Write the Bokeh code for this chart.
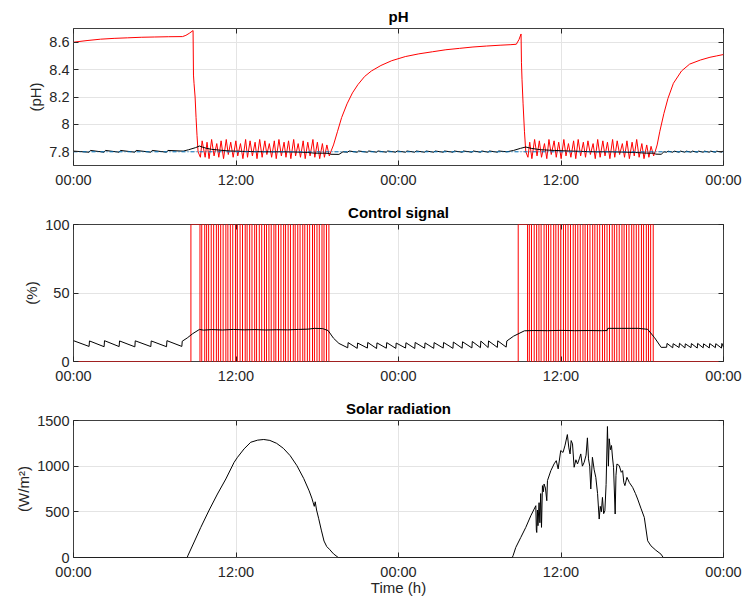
from bokeh.plotting import figure
from bokeh.models import Range1d, FixedTicker, LinearAxis, Grid
from bokeh.layouts import column
from bokeh.embed import file_html
from bokeh.resources import INLINE

# ---------------- data (hours from first midnight) ----------------
x_ticks = [0, 12, 24, 36, 48]
x_labels = ["00:00", "12:00", "00:00", "12:00", "00:00"]

ph_ticks = [7.8, 8.0, 8.2, 8.4, 8.6]
ph_labels = ["7.8", "8", "8.2", "8.4", "8.6"]
ctrl_ticks = [0, 50, 100]
ctrl_labels = ["0", "50", "100"]
sol_ticks = [0, 500, 1000, 1500]
sol_labels = ["0", "500", "1000", "1500"]

setpoint = 7.8

# red pH: night 1 + first drop
red_a_t = [0, 1, 2, 3, 4, 5, 6, 7, 8.05, 8.3, 8.55, 8.83, 8.86, 8.9, 8.98, 9.05, 9.12, 9.2]
red_a_v = [8.600, 8.612, 8.622, 8.628, 8.632, 8.636, 8.638, 8.640, 8.641, 8.650, 8.665, 8.685,
           8.36, 8.30, 8.20, 8.05, 7.92, 7.80]
# red pH: recovery after day 1, night 2, second drop
red_b_t = [19.0, 19.2, 19.5, 19.8, 20.2, 20.6, 21.0, 21.5, 22.0, 22.7, 23.5, 24.5, 25.5, 26.5,
           27.5, 28.5, 29.5, 30.5, 31.5, 32.3, 32.7, 32.9, 33.05, 33.08, 33.12, 33.2, 33.3, 33.4]
red_b_v = [7.80, 7.85, 7.95, 8.05, 8.15, 8.23, 8.29, 8.35, 8.39, 8.43, 8.465, 8.495, 8.515, 8.53,
           8.545, 8.555, 8.565, 8.572, 8.578, 8.582, 8.585, 8.62, 8.66, 8.45, 8.33, 8.15, 7.95, 7.80]
# red pH: recovery after day 2
red_c_t = [42.95, 43.1, 43.3, 43.6, 43.9, 44.3, 44.9, 45.5, 46.3, 47.0, 47.5, 48.0]
red_c_v = [7.80, 7.85, 7.95, 8.08, 8.19, 8.30, 8.39, 8.44, 8.47, 8.49, 8.50, 8.51]

# control pulses (on / off times, h) -- first pulse of each day is the long one
on1 = [8.67, 9.47, 9.83, 10.17, 10.55, 10.87, 11.25, 11.58, 11.96, 12.30, 12.68, 13.01, 13.38, 13.72,
       14.10, 14.43, 14.80, 15.14, 15.52, 15.85, 16.23, 16.56, 16.93, 17.27, 17.65, 17.98, 18.35, 18.68]
off1 = [9.34, 9.69, 9.98, 10.35, 10.70, 11.05, 11.40, 11.76, 12.10, 12.48, 12.82, 13.18, 13.52, 13.90,
        14.25, 14.60, 14.94, 15.32, 15.66, 16.02, 16.37, 16.73, 17.08, 17.44, 17.79, 18.15, 18.50, 18.86]
on2 = [32.84, 33.66, 34.02, 34.37, 34.75, 35.08, 35.46, 35.80, 36.18, 36.52, 36.90, 37.24, 37.62, 37.96,
       38.34, 38.68, 39.06, 39.40, 39.78, 40.12, 40.50, 40.84, 41.22, 41.56, 41.94, 42.30, 42.62]
off2 = [33.53, 33.82, 34.20, 34.53, 34.92, 35.25, 35.62, 35.98, 36.34, 36.70, 37.06, 37.42, 37.78, 38.14,
        38.50, 38.86, 39.22, 39.58, 39.94, 40.30, 40.66, 41.02, 41.38, 41.74, 42.10, 42.46, 42.81]

# red pH oscillation extremes (peaks before each short pulse, troughs after each pulse)
pk1 = [7.88, 7.87, 7.89, 7.86, 7.88, 7.89, 7.87, 7.88, 7.86, 7.89, 7.88, 7.87, 7.89, 7.88,
       7.86, 7.88, 7.89, 7.87, 7.88, 7.89, 7.86, 7.88, 7.87, 7.89, 7.87, 7.86, 7.85]
tr1 = [7.76, 7.76, 7.75, 7.77, 7.76, 7.75, 7.78, 7.76, 7.77, 7.75, 7.76, 7.77, 7.75, 7.76,
       7.78, 7.76, 7.75, 7.77, 7.76, 7.75, 7.77, 7.76, 7.75, 7.77, 7.76, 7.75, 7.76, 7.77]
pk2 = [7.87, 7.89, 7.88, 7.86, 7.89, 7.88, 7.87, 7.89, 7.86, 7.88, 7.89, 7.87, 7.88,
       7.86, 7.89, 7.88, 7.87, 7.89, 7.88, 7.86, 7.88, 7.87, 7.89, 7.86, 7.85, 7.84]
tr2 = [7.76, 7.75, 7.77, 7.76, 7.75, 7.78, 7.76, 7.75, 7.77, 7.76, 7.75, 7.77, 7.76, 7.78,
       7.75, 7.76, 7.77, 7.75, 7.76, 7.78, 7.76, 7.75, 7.77, 7.76, 7.75, 7.76, 7.77]

# control signal (black): night saw teeth (jump time, value before, value after)
n1_t = [1.15, 2.26, 3.37, 4.53, 5.71, 6.87, 8.00]
n1_lo = [11.0, 10.8, 10.9, 10.7, 10.9, 10.8, 11.0]
n1_hi = [15.0, 15.2, 15.0, 15.1, 15.0, 15.2, 14.8]
n2_t = [20.25, 20.95, 21.70, 22.38, 23.10, 23.80, 24.52, 25.20, 25.93, 26.60, 27.30, 28.02,
        28.70, 29.42, 30.05, 30.62, 31.30]
n2_lo = [10.0, 9.6, 9.8, 9.5, 9.7, 9.6, 9.8, 9.5, 9.7, 9.6, 9.8, 9.6, 9.7, 9.9, 10.1, 10.2, 10.3]
n2_hi = [13.8, 13.5, 13.9, 13.6, 13.8, 13.5, 13.7, 13.9, 13.6, 13.8, 13.9, 14.2, 14.4, 14.6, 14.9, 15.0, 15.1]
n3_t = [43.80, 44.25, 44.72, 45.15, 45.60, 46.06, 46.50, 46.95, 47.40, 47.85]
n3_lo = [10.4, 10.0, 10.2, 9.9, 10.1, 9.8, 10.0, 9.9, 10.1, 9.8]
n3_hi = [13.2, 13.0, 13.3, 12.9, 13.1, 13.2, 12.9, 13.1, 13.0, 13.2]
c_d1_t = [8.40, 8.80, 9.30, 9.60, 10.2, 11.0, 11.8, 12.6, 13.4, 14.2, 15.0, 15.8, 16.6, 17.3,
          17.8, 18.4, 18.8, 19.2, 19.6]
c_d1_v = [17.2, 20.3, 23.4, 22.9, 23.3, 23.0, 23.4, 23.1, 23.3, 23.0, 23.2, 23.1, 23.4, 23.6,
          24.2, 24.0, 22.6, 17.0, 13.2]
c_d2_t = [31.95, 32.00, 32.50, 33.30, 34.0, 35.0, 36.0, 37.0, 38.0, 39.0, 39.40, 39.45, 40.5,
          41.7, 42.4, 42.9, 43.4]
c_d2_v = [10.5, 15.0, 18.5, 22.4, 22.6, 22.5, 22.7, 22.5, 22.6, 22.5, 22.6, 24.2, 24.2,
          24.2, 23.5, 17.5, 10.3]

# black pH (daytime parts)
pb_d1_t = [8.1, 8.5, 9.0, 9.3, 9.5, 9.8, 10.2, 10.8, 11.5, 12.5, 13.5, 14.5, 15.5, 16.5, 17.3,
           17.8, 18.5, 18.9, 19.0, 19.6, 19.9]
pb_d1_v = [7.805, 7.815, 7.830, 7.842, 7.835, 7.826, 7.818, 7.812, 7.806, 7.803, 7.801, 7.800,
           7.800, 7.798, 7.795, 7.790, 7.790, 7.788, 7.782, 7.781, 7.800]
pb_d2_t = [32.0, 32.5, 33.0, 33.4, 33.8, 34.5, 35.5, 36.5, 37.5, 38.5, 39.5, 40.5, 41.5, 42.3,
           42.9, 43.0, 43.4, 43.6]
pb_d2_v = [7.800, 7.810, 7.825, 7.835, 7.825, 7.815, 7.810, 7.806, 7.803, 7.800, 7.800, 7.798,
           7.795, 7.790, 7.790, 7.783, 7.782, 7.800]
pb_base = 7.797
pb_bump = [7.810, 7.806, 7.805]

# solar radiation
s1_t = [0, 8.40, 8.44, 8.91, 9.40, 10.02, 10.63, 11.25, 11.86, 12.11, 12.6, 13.09, 13.6, 14.05,
        14.5, 15.0, 15.5, 16.0, 16.5, 17.0, 17.4, 17.6, 17.7, 17.78, 17.85, 17.95, 18.1, 18.3,
        18.5, 18.7, 18.9, 19.2, 19.55]
s1_v = [0, 0, 18, 170, 330, 520, 695, 860, 1042, 1097, 1190, 1262, 1285, 1292, 1282, 1250, 1195,
        1115, 1005, 865, 730, 650, 600, 560, 610, 520, 430, 300, 180, 120, 90, 40, 0]
s2_t = [32.40, 32.46, 32.66, 33.03, 33.40, 33.77, 34.14, 34.18, 34.21, 34.26, 34.30, 34.38, 34.44,
        34.50, 34.56, 34.63, 34.70, 34.75, 34.85, 34.95, 35.00, 35.25, 35.49, 35.65, 35.79, 35.98,
        36.15, 36.30, 36.47, 36.58, 36.67, 36.75, 36.85, 36.97, 37.10, 37.22, 37.35, 37.46, 37.58,
        37.71, 37.85, 37.95, 38.03, 38.12, 38.20, 38.32, 38.45, 38.57, 38.70, 38.82, 38.90, 38.98,
        39.06, 39.15, 39.24, 39.33, 39.43, 39.50, 39.56, 39.65, 39.73, 39.80, 39.88, 40.00, 40.06,
        40.13, 40.30, 40.45, 40.55, 40.64, 40.72, 40.87, 41.05, 41.29, 41.50, 41.66, 41.90, 42.15,
        42.40, 42.64, 43.0, 43.38, 43.55, 48.0]
s2_v = [0, 20, 110, 220, 330, 457, 567, 300, 274, 520, 348, 600, 380, 700, 330, 787, 720, 805,
        760, 622, 842, 951, 1025, 1060, 970, 1171, 1150, 1230, 1346, 1200, 1134, 1280, 1244, 988,
        1070, 1024, 1080, 1134, 1000, 1042, 1120, 1310, 1080, 1000, 750, 1097, 960, 878, 700, 421,
        560, 500, 658, 480, 512, 800, 1434, 1000, 1300, 1180, 1226, 1100, 988, 476, 900, 1024, 1006,
        933, 951, 820, 787, 878, 820, 768, 700, 640, 540, 439, 183, 128, 80, 37, 0, 0]

# ---------------- build series ----------------
def osc(on, off, pk, tr):
    t, v = [], []
    for i in range(len(off)):
        t.append(off[i] + 0.03); v.append(tr[i])
        if i + 1 < len(on):
            t.append(on[i + 1] + 0.03); v.append(pk[i])
    return t, v

o1t, o1v = osc(on1, off1, pk1, tr1)
o2t, o2v = osc(on2, off2, pk2, tr2)
red_t = red_a_t + o1t + red_b_t + o2t + red_c_t
red_v = red_a_v + o1v + red_b_v + o2v + red_c_v

def teeth(ts, lo, hi):
    t, v = [], []
    for a, b, c in zip(ts, lo, hi):
        t += [a, a + 0.03]; v += [b, c]
    return t, v

t1, v1 = teeth(n1_t, n1_lo, n1_hi)
t2, v2 = teeth(n2_t, n2_lo, n2_hi)
t3, v3 = teeth(n3_t, n3_lo, n3_hi)
ctrl_t = [0] + t1 + c_d1_t + t2 + c_d2_t + t3 + [48]
ctrl_v = [15.2] + v1 + c_d1_v + v2 + c_d2_v + v3 + [10.5]

pw_t, pw_v = [0], [0]
for a, b in list(zip(on1, off1)) + list(zip(on2, off2)):
    pw_t += [a, a, b, b]; pw_v += [0, 100, 100, 0]
pw_t.append(48); pw_v.append(0)

def bumps(ts, h):
    t, v = [], []
    for a in ts:
        t += [a, a + 0.1]; v += [pb_base, h]
    return t, v

b1t, b1v = bumps(n1_t[:-1], pb_bump[0])
b2t, b2v = bumps(n2_t, pb_bump[1])
b3t, b3v = bumps(n3_t, pb_bump[2])
pb_t = [0] + b1t + pb_d1_t + b2t + pb_d2_t + b3t + [48]
pb_v = [7.805] + b1v + pb_d1_v + b2v + pb_d2_v + b3v + [7.800]

sol_t = s1_t + s2_t
sol_v = s1_v + s2_v

# ---------------- styling ----------------
FONT = "Liberation Sans"
TXT = "#262626"
GRID = "#e4e4e4"
xt = FixedTicker(ticks=x_ticks, minor_ticks=[])


def make_fig(top, fh, bottom, yr, yticks, ylabels, ytitle, title, xtitle=None):
    p = figure(frame_width=650, frame_height=fh, min_border_left=73, min_border_right=19,
               min_border_top=top, min_border_bottom=bottom,
               x_range=Range1d(0, 48), y_range=Range1d(*yr),
               x_axis_type=None, y_axis_type=None, title=title,
               output_backend="svg", toolbar_location=None)
    p.title.align = "center"
    p.title.text_font = FONT
    p.title.text_font_size = "15px"
    p.title.text_font_style = "bold"
    p.title.text_color = "black"
    p.title.standoff = 7
    p.outline_line_color = "#404040"
    p.outline_line_width = 1
    p.background_fill_color = "white"
    p.border_fill_color = "white"
    yt = FixedTicker(ticks=yticks, minor_ticks=[])
    p.add_layout(Grid(dimension=0, ticker=xt, grid_line_color=GRID, grid_line_width=1))
    p.add_layout(Grid(dimension=1, ticker=yt, grid_line_color=GRID, grid_line_width=1))

    common = dict(major_tick_in=5, major_tick_out=0, minor_tick_in=0, minor_tick_out=0,
                  axis_line_color=None, major_tick_line_color="#262626",
                  major_label_text_font=FONT)
    bx = LinearAxis(ticker=xt, major_label_overrides=dict(zip(x_ticks, x_labels)),
                    major_label_standoff=6, major_label_text_font_size="14.5px",
                    major_label_text_color=TXT, **common)
    if xtitle:
        bx.axis_label = xtitle
        bx.axis_label_text_font = FONT
        bx.axis_label_text_font_size = "15px"
        bx.axis_label_text_font_style = "normal"
        bx.axis_label_text_color = TXT
        bx.axis_label_standoff = -4
    p.add_layout(bx, "below")
    # tick-only axes on the top and right (no labels drawn)
    tx = LinearAxis(ticker=xt, major_label_text_font_size="0px", major_label_text_color=None,
                    major_label_standoff=0, **common)
    p.add_layout(tx, "above")
    ly = LinearAxis(ticker=yt, major_label_overrides=dict(zip(yticks, ylabels)),
                    major_label_standoff=4, major_label_text_font_size="14.5px",
                    major_label_text_color=TXT, axis_label=ytitle,
                    axis_label_text_font=FONT, axis_label_text_font_size="15px",
                    axis_label_text_font_style="normal", axis_label_text_color=TXT,
                    axis_label_standoff=2, **common)
    p.add_layout(ly, "left")
    ry = LinearAxis(ticker=yt, major_label_text_font_size="0px", major_label_text_color=None,
                    major_label_standoff=0, **common)
    p.add_layout(ry, "right")
    return p


p1 = make_fig(28, 137, 31, (7.7, 8.7), ph_ticks, ph_labels, "(pH)", "pH")
p1.line(red_t, red_v, line_color="#ff0000", line_width=1)
p1.line(pb_t, pb_v, line_color="black", line_width=1)
p1.line([0, 48], [setpoint, setpoint], line_color="#0072BD", line_width=1, line_dash="4 2 1 2")

p2 = make_fig(28, 137, 31, (0, 100), ctrl_ticks, ctrl_labels, "(%)", "Control signal")
p2.line(pw_t, pw_v, line_color="#ff0000", line_width=1)
p2.line(ctrl_t, ctrl_v, line_color="black", line_width=1)

p3 = make_fig(28, 137, 41, (0, 1500), sol_ticks, sol_labels, "(W/m²)", "Solar radiation",
              xtitle="Time (h)")
p3.line(sol_t, sol_v, line_color="black", line_width=1)

layout = column(p1, p2, p3, spacing=0)
open("out.html", "w").write(file_html(layout, INLINE))
